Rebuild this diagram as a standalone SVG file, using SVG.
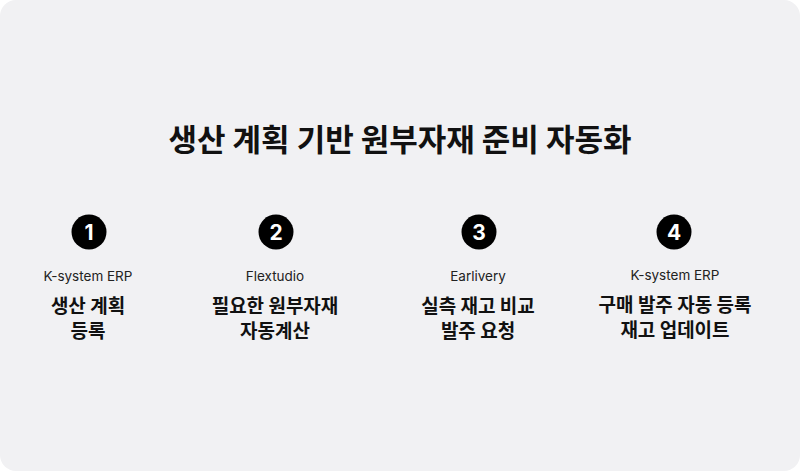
<svg xmlns="http://www.w3.org/2000/svg" width="800" height="471" viewBox="0 0 800 471">
<style>
.title{font-family:"Noto Sans CJK KR","Noto Sans",sans-serif;font-weight:700;font-size:31px;fill:#111;text-anchor:middle}
.num{font-family:"Inter","Noto Sans",sans-serif;font-weight:700;font-size:21px;fill:#fff;text-anchor:middle}
.tool{font-family:"Inter","Noto Sans CJK KR",sans-serif;font-size:13.5px;fill:#222;text-anchor:middle}
.step{font-family:"Noto Sans CJK KR","Noto Sans",sans-serif;font-weight:700;font-size:19px;fill:#111;text-anchor:middle}
.badge{fill:#000}
</style>
<rect x="0" y="0" width="800" height="471" fill="#ffffff"/>
<rect x="0" y="0" width="800" height="471" rx="16" fill="#f1f1f3"/>
<text class="title" x="400" y="151">생산 계획 기반 원부자재 준비 자동화</text>
<g id="step1">
<circle class="badge" cx="89" cy="232" r="17.5"/>
<text class="num" x="89" y="240">1</text>
<text class="tool" x="88" y="281">K-system ERP</text>
<text class="step" x="88" y="313">생산 계획</text>
<text class="step" x="88" y="338">등록</text>
</g>
<g id="step2">
<circle class="badge" cx="276" cy="232" r="17.5"/>
<text class="num" x="276" y="240">2</text>
<text class="tool" x="275" y="281">Flextudio</text>
<text class="step" x="275" y="313">필요한 원부자재</text>
<text class="step" x="275" y="338">자동계산</text>
</g>
<g id="step3">
<circle class="badge" cx="479" cy="232" r="17.5"/>
<text class="num" x="479" y="240">3</text>
<text class="tool" x="478" y="281">Earlivery</text>
<text class="step" x="478" y="313">실측 재고 비교</text>
<text class="step" x="478" y="338">발주 요청</text>
</g>
<g id="step4">
<circle class="badge" cx="674" cy="232" r="17.5"/>
<text class="num" x="674" y="240">4</text>
<text class="tool" x="675" y="280">K-system ERP</text>
<text class="step" x="675" y="312">구매 발주 자동 등록</text>
<text class="step" x="675" y="337">재고 업데이트</text>
</g>
<g id="connectors"></g>
</svg>
